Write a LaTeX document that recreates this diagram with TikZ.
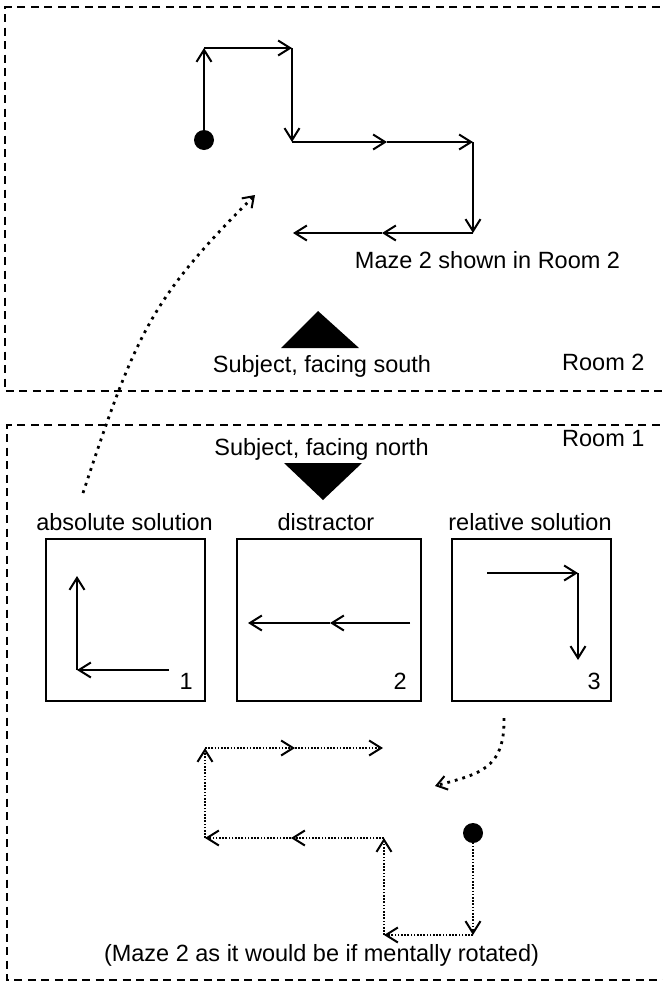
\documentclass[tikz,border=0pt]{standalone}
\usepackage{fontspec}
\setmainfont{Liberation Sans}
\usetikzlibrary{arrows.meta}
\tikzset{
  barb/.tip={Straight Barb[length=12pt,width=15pt,line width=2pt]},
  smallbarb/.tip={Straight Barb[length=10pt,width=14pt,line width=2pt]},
  mazeline/.style={line width=2pt,-barb},
  dotline/.style={line width=1.8pt,dash pattern=on 1.6pt off 1.6pt,-barb},
  bigdots/.style={line width=2.8pt,dash pattern=on 2.8pt off 5pt,-smallbarb},
  room/.style={line width=1.4pt,dash pattern=on 8pt off 5.5pt},
  boxframe/.style={draw,line width=2pt},
  lbl/.style={inner sep=0pt,anchor=base,font=\fontsize{23.5}{28}\selectfont},
  dotnode/.style={circle,fill=black,inner sep=0pt,minimum size=20pt},
  tri/.style={fill=black}
}
\begin{document}
\begin{tikzpicture}[x=1pt,y=-1pt]
\useasboundingbox (0,0) rectangle (662,983);
% rooms
\draw[room] (700,7) -- (5,7) -- (5,391) -- (700,391);
\draw[room] (700,425) -- (7,425) -- (7,980) -- (700,980);

% top maze (Maze 2 in Room 2)
\node[dotnode] (dotA) at (204,140) {};
\coordinate (a1) at (204,48);
\coordinate (a2) at (292,48);
\coordinate (a3) at (292,142);
\coordinate (a3m) at (387,142);
\coordinate (a4) at (473,142);
\coordinate (a5) at (473,233);
\coordinate (a5m) at (382,233);
\coordinate (a6) at (293,233);
\draw[mazeline] (dotA.center) -- (a1);
\draw[mazeline] (a1) -- (a2);
\draw[mazeline] (a2) -- (a3);
\draw[mazeline] (a3) -- (a3m);
\draw[mazeline] (a3m) -- (a4);
\draw[mazeline] (a4) -- (a5);
\draw[mazeline] (a5) -- (a5m);
\draw[mazeline] (a5m) -- (a6);

\node[lbl] (mazelbl) at (487.5,268) {Maze 2 shown in Room 2};

% subject in room 2
\fill[tri] (318,311) -- (359,348) -- (281,348) -- cycle;
\node[lbl] (south) at (322,372) {Subject, facing south};
\node[lbl,anchor=base west] (room2) at (562,370) {Room 2};

% room 1
\node[lbl,anchor=base west] (room1) at (562,446) {Room 1};
\node[lbl] (north) at (321.5,455) {Subject, facing north};
\fill[tri] (284,463) -- (362,463) -- (323,500) -- cycle;

% answer boxes
\node[lbl] (abs) at (124.5,530) {absolute solution};
\node[lbl] (dis) at (326,530) {distractor};
\node[lbl] (rel) at (530,530) {relative solution};
\draw[boxframe] (45.6,539) rectangle (204.6,701);
\draw[boxframe] (237,539) rectangle (421,701);
\draw[boxframe] (451.5,539) rectangle (610.5,701);
\node[lbl,anchor=base east] (n1) at (193,689) {1};
\node[lbl,anchor=base east] (n2) at (407,689) {2};
\node[lbl,anchor=base east] (n3) at (601,689) {3};

\coordinate (c0) at (169,670);
\coordinate (c1) at (77,670);
\coordinate (c2) at (77,576);
\draw[mazeline] (c0) -- (c1);
\draw[mazeline] (c1) -- (c2);

\coordinate (d0) at (410,623);
\coordinate (dm) at (330,623);
\coordinate (d1) at (248,623);
\draw[mazeline] (d0) -- (dm);
\draw[mazeline] (dm) -- (d1);

\coordinate (e0) at (487,573);
\coordinate (e1) at (578,573);
\coordinate (e2) at (578,660);
\draw[mazeline] (e0) -- (e1);
\draw[mazeline] (e1) -- (e2);

% bottom (mentally rotated) maze
\node[dotnode] (dotB) at (473,833) {};
\coordinate (b1) at (473,935);
\coordinate (b2) at (384,935);
\coordinate (b3) at (384,838);
\coordinate (b3m) at (291,838);
\coordinate (b4) at (205,838);
\coordinate (b5) at (205,748);
\coordinate (b5m) at (295,748);
\coordinate (b6) at (383,748);
\draw[dotline] (dotB.center) -- (b1);
\draw[dotline] (b1) -- (b2);
\draw[dotline] (b2) -- (b3);
\draw[dotline] (b3) -- (b3m);
\draw[dotline] (b3m) -- (b4);
\draw[dotline] (b4) -- (b5);
\draw[dotline] (b5) -- (b5m);
\draw[dotline] (b5m) -- (b6);

\node[lbl] (rotlbl) at (321.5,961) {(Maze 2 as it would be if mentally rotated)};

% curved dotted arrows
\coordinate (p0) at (83,493);
\coordinate (p3) at (255,195);
\draw[bigdots] (p0) .. controls (136,333) and (151,299) .. (p3);
\coordinate (q0) at (504,718);
\coordinate (q3) at (435,786);
\draw[bigdots] (q0) .. controls (505,770) and (478,774) .. (q3);
\end{tikzpicture}
\end{document}
